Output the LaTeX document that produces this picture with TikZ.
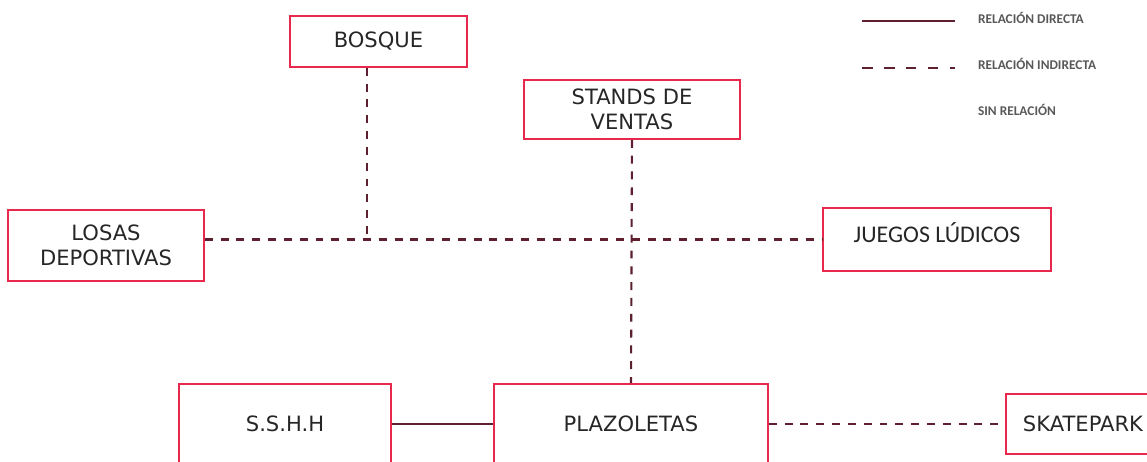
\documentclass[tikz,border=0pt]{standalone}
\usepackage{fontspec}
\setmainfont{DejaVu Sans}
\newfontfamily\calibri{Carlito}
\usetikzlibrary{positioning}
\definecolor{rojoBorde}{HTML}{E8294D}
\definecolor{granate}{HTML}{5E1F2E}
\definecolor{grisL}{HTML}{595959}

\begin{document}
\begin{tikzpicture}[x=0.02cm,y=-0.02cm,
  caja/.style={draw=rojoBorde,line width=1pt,inner sep=0pt,align=center,
    text=black!85,font=\fontsize{12}{14}\selectfont},
  directa/.style={draw=granate,line width=1.2pt},
  indirecta/.style={draw=granate,line width=1.2pt,dash pattern=on 4.5pt off 4.5pt},
  leyenda/.style={anchor=west,inner sep=1pt,text=grisL,font=\calibri\bfseries\fontsize{7.6}{9}\selectfont}]
  \useasboundingbox (0,0) rectangle (1147,462);
  \clip (0,0) rectangle (1147,462);

  % cajas
  \node[caja,minimum width=3.54cm,minimum height=1.02cm] (bosque) at (378.5,41.5) {BOSQUE};
  \node[caja,minimum width=4.32cm,minimum height=1.18cm] (stands) at (632,109.5) {STANDS DE\\VENTAS};
  \node[caja,minimum width=3.92cm,minimum height=1.42cm] (losas) at (106,245.5) {LOSAS\\DEPORTIVAS};
  \node[caja,minimum width=4.56cm,minimum height=1.26cm,
    font=\calibri\fontsize{13.6}{15}\selectfont,text depth=8pt]
    (juegos) at (937,239.5) {JUEGOS LÚDICOS};
  \node[caja,minimum width=4.24cm,minimum height=1.6cm] (sshh) at (285,424) {S.S.H.H};
  \node[caja,minimum width=5.48cm,minimum height=1.6cm] (plaza) at (631,424) {PLAZOLETAS};
  \node[caja,minimum width=3.08cm,minimum height=1.2cm] (skate) at (1083,424) {SKATEPARK};

  % relaciones
  \coordinate (cruce) at (367,239.5);
  \draw[indirecta] (losas.east |- juegos.west) -- (juegos.west);
  \draw[indirecta] (bosque.south -| cruce) -- (cruce);
  \draw[indirecta] (stands.south) -- (plaza.north);
  \draw[directa] (sshh.east) -- (plaza.west);
  \draw[indirecta] (plaza.east) -- (skate.west);

  % leyenda
  \coordinate (d1) at (862,21);
  \coordinate (d2) at (955,21);
  \coordinate (i1) at (862,68);
  \coordinate (i2) at (955,68);
  \draw[directa,line width=1.5pt] (d1) -- (d2);
  \draw[indirecta,line width=1.5pt,dash pattern=on 6pt off 6.5pt] (i1) -- (i2);
  \node[leyenda] (tDir) at (976,18) {RELACIÓN DIRECTA};
  \node[leyenda] (tInd) at (976,64) {RELACIÓN INDIRECTA};
  \node[leyenda] (tSin) at (976,110) {SIN RELACIÓN};
\end{tikzpicture}
\end{document}
